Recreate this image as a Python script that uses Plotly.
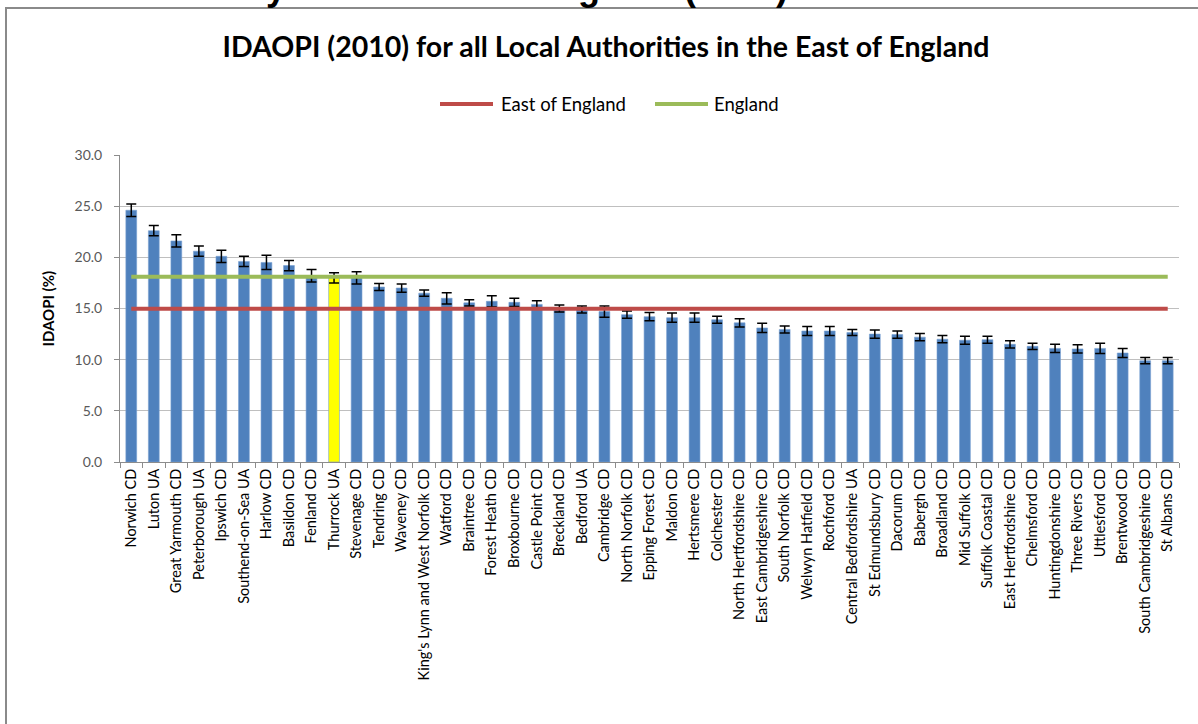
import plotly.graph_objects as go

authorities = [
    "Norwich CD", "Luton UA", "Great Yarmouth CD", "Peterborough UA", "Ipswich CD",
    "Southend-on-Sea UA", "Harlow CD", "Basildon CD", "Fenland CD", "Thurrock UA",
    "Stevenage CD", "Tendring CD", "Waveney CD", "King's Lynn and West Norfolk CD",
    "Watford CD", "Braintree CD", "Forest Heath CD", "Broxbourne CD", "Castle Point CD",
    "Breckland CD", "Bedford UA", "Cambridge CD", "North Norfolk CD", "Epping Forest CD",
    "Maldon CD", "Hertsmere CD", "Colchester CD", "North Hertfordshire CD",
    "East Cambridgeshire CD", "South Norfolk CD", "Welwyn Hatfield CD", "Rochford CD",
    "Central Bedfordshire UA", "St Edmundsbury CD", "Dacorum CD", "Babergh CD",
    "Broadland CD", "Mid Suffolk CD", "Suffolk Coastal CD", "East Hertfordshire CD",
    "Chelmsford CD", "Huntingdonshire CD", "Three Rivers CD", "Uttlesford CD",
    "Brentwood CD", "South Cambridgeshire CD", "St Albans CD",
]

idaopi = [
    24.6, 22.6, 21.6, 20.6, 20.1, 19.6, 19.5, 19.2, 18.2, 18.0,
    18.0, 17.1, 17.0, 16.5, 16.0, 15.55, 15.7, 15.6, 15.4, 15.0,
    14.9, 14.7, 14.4, 14.2, 14.1, 14.1, 13.9, 13.6, 13.1, 12.95,
    12.8, 12.8, 12.65, 12.5, 12.45, 12.2, 12.0, 11.9, 11.95, 11.5,
    11.3, 11.1, 11.05, 11.1, 10.65, 9.9, 9.9,
]

ci_half = [
    0.6, 0.5, 0.6, 0.5, 0.6, 0.5, 0.7, 0.5, 0.6, 0.5,
    0.6, 0.35, 0.4, 0.3, 0.55, 0.3, 0.55, 0.4, 0.35, 0.35,
    0.35, 0.55, 0.35, 0.4, 0.45, 0.45, 0.35, 0.4, 0.45, 0.35,
    0.45, 0.45, 0.3, 0.4, 0.35, 0.35, 0.35, 0.4, 0.35, 0.35,
    0.3, 0.4, 0.4, 0.5, 0.45, 0.3, 0.3,
]

east_of_england = 14.97
england = 18.1
highlight = "Thurrock UA"

y_ticks = [0, 5, 10, 15, 20, 25, 30]

BLUE = "#4F81BD"
YELLOW = "#FFFF00"
RED = "#BE4B48"
GREEN = "#9BBB59"
FONT = "Lato"

# plot area geometry (pixels)
L, R, T, B = 120, 1179, 155, 462
PW, PH = R - L, B - T


def px(x):
    return (x - L) / PW


def py(y):
    return (B - y) / PH


bar_colors = [YELLOW if a == highlight else BLUE for a in authorities]

fig = go.Figure()
fig.add_trace(go.Bar(
    x=authorities, y=idaopi,
    marker=dict(color=bar_colors, line=dict(color="rgba(120,160,210,0.6)", width=1)),
    error_y=dict(type="data", array=ci_half, visible=True, color="#000000",
                 thickness=1.5, width=5),
    showlegend=False, hoverinfo="x+y",
))
fig.add_trace(go.Scatter(
    x=authorities, y=[east_of_england] * len(authorities), mode="lines",
    line=dict(color=RED, width=4), name="East of England", showlegend=False,
))
fig.add_trace(go.Scatter(
    x=authorities, y=[england] * len(authorities), mode="lines",
    line=dict(color=GREEN, width=4), name="England", showlegend=False,
))

fig.update_layout(
    width=1198, height=724,
    margin=dict(l=L, r=1198 - R, t=T, b=724 - B, autoexpand=False),
    paper_bgcolor="white", plot_bgcolor="white",
    bargap=0.52,
    font=dict(family=FONT, color="#404040"),
    title=dict(
        text="<b>IDAOPI (2010) for all Local Authorities in the East of England</b>",
        x=px(606), xref="paper", xanchor="center",
        y=1 - 47 / 724, yref="container", yanchor="middle",
        font=dict(family=FONT, size=28.5, color="#000000"),
    ),
    showlegend=False,
)

fig.update_xaxes(
    type="category", tickangle=-90, automargin=False,
    tickfont=dict(family=FONT, size=14.5, color="#000000"),
    showline=True, linecolor="#8c8c8c", linewidth=1,
    ticks="outside", tickson="boundaries", ticklen=5, tickcolor="#8c8c8c",
    showgrid=False,
)
fig.update_yaxes(
    range=[0, 30], tickvals=y_ticks, tickformat=".1f", automargin=False,
    tickfont=dict(family=FONT, size=14, color="#595959"),
    showline=True, linecolor="#8c8c8c", linewidth=1,
    ticks="outside", ticklen=5, tickcolor="#8c8c8c",
    ticklabelstandoff=9,
    showgrid=True, gridcolor="#bfbfbf", gridwidth=1, zeroline=False,
)

# manual legend (line samples + labels)
legend_items = [("East of England", RED, 440, 493, 499), ("England", GREEN, 655, 708, 712)]
for name, color, x0, x1, tx in legend_items:
    fig.add_shape(type="line", xref="paper", yref="paper",
                  x0=px(x0), x1=px(x1), y0=py(104), y1=py(104),
                  line=dict(color=color, width=4))
    fig.add_annotation(text=name, xref="paper", yref="paper", x=px(tx), y=py(104),
                       xanchor="left", yanchor="middle", showarrow=False,
                       font=dict(family=FONT, size=18.5, color="#000000"))

# y axis title
fig.add_annotation(
    text="<b>IDAOPI (%)</b>", textangle=-90,
    xref="paper", yref="paper", x=px(47), y=0.5,
    xanchor="center", yanchor="middle", showarrow=False,
    font=dict(family=FONT, size=15, color="#000000"),
)

# document heading partially cut off at top of the screenshot
fig.add_annotation(
    text="<b>Authority in the East of England (2010)</b>",
    xref="paper", yref="paper", x=px(790), y=py(10),
    xanchor="right", yanchor="bottom", showarrow=False,
    font=dict(family="Liberation Sans", size=36, color="#000000"),
)

# chart frame border
fig.add_shape(
    type="rect", xref="paper", yref="paper",
    x0=px(6), x1=px(1230), y0=py(800), y1=py(8),
    line=dict(color="#8a8a8a", width=2), fillcolor="rgba(0,0,0,0)", layer="below",
)

fig.write_html("out.html", config={"displayModeBar": False},
               post_script="document.body.style.margin='0px';")
